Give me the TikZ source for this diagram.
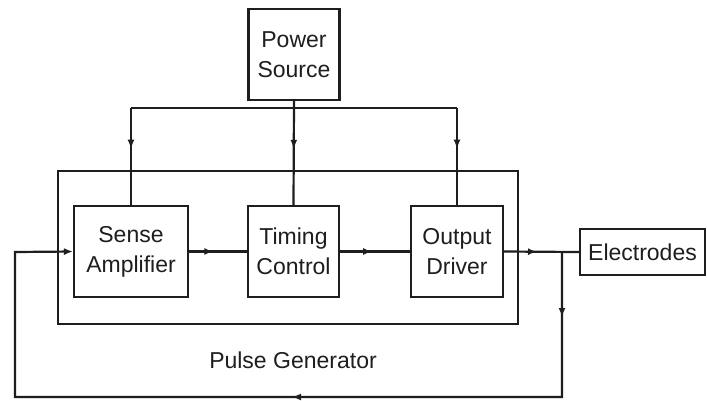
\documentclass[tikz,border=0pt]{standalone}
\usepackage{fontspec}
\setmainfont{Liberation Sans}
\usetikzlibrary{arrows.meta,decorations.markings}
\definecolor{ink}{HTML}{1E1E1E}
\tikzset{
  blk/.style={draw=ink, line width=2.2pt, rectangle, inner sep=0pt, align=center,
    font=\fontsize{23}{30}\selectfont, text=ink},
  wire/.style={draw=ink, line width=2.2pt},
  tip/.style={-{Latex[length=9pt,width=7pt]}},
  midarrow/.style={decoration={markings, mark=at position #1 with {\arrow{Latex[length=9pt,width=7pt]}}}, postaction=decorate},
  twoarrows/.style 2 args={decoration={markings,
    mark=at position #1 with {\arrow{Latex[length=9pt,width=7pt]}},
    mark=at position #2 with {\arrow{Latex[length=9pt,width=7pt]}}}, postaction=decorate},
}
\begin{document}
\begin{tikzpicture}[x=1pt,y=-1pt]
\useasboundingbox[fill=white] (0,0) rectangle (707,400);
% blocks
\node[blk, minimum width=91pt, minimum height=91pt] (ps) at (294,54.5) {Power\\Source};
\node[blk, minimum width=460pt, minimum height=153pt] (pg) at (288,247.5) {};
\node[blk, minimum width=114pt, minimum height=91pt] (sa) at (131,251.5) {Sense\\Amplifier};
\node[blk, minimum width=91pt, minimum height=91pt] (tc) at (293.5,251.5) {Timing\\Control};
\node[blk, minimum width=92pt, minimum height=91pt] (od) at (457,251.5) {Output\\Driver};
\node[blk, minimum width=125pt, minimum height=46pt] (el) at (642.5,252) {Electrodes};
\node[font=\fontsize{23}{30}\selectfont, text=ink] (pglabel) at (293,360) {Pulse Generator};
% coordinates
\coordinate (bus) at (294,108);
\coordinate (br) at (562,252);
\coordinate (c1) at (562,397);
\coordinate (c2) at (15,397);
\coordinate (c3) at (15,252);
% power distribution
\draw[wire] (bus -| sa.north) -- (bus -| od.north);
\draw[wire, midarrow=0.42] (bus -| sa.north) -- (sa.north);
\draw[wire, midarrow=0.46] (ps.south) -- (tc.north);
\draw[wire, midarrow=0.42] (bus -| od.north) -- (od.north);
% signal chain
\draw[wire, midarrow=0.42] (sa.east) -- (tc.west);
\draw[wire, midarrow=0.46] (tc.east) -- (od.west);
\draw[wire, midarrow=0.44] (od.east) -- (el.west);
% feedback
\draw[wire, tip, twoarrows={65pt}{415pt}] (br) -- (c1) -- (c2) -- (c3) -- (sa.west);
\end{tikzpicture}
\end{document}
